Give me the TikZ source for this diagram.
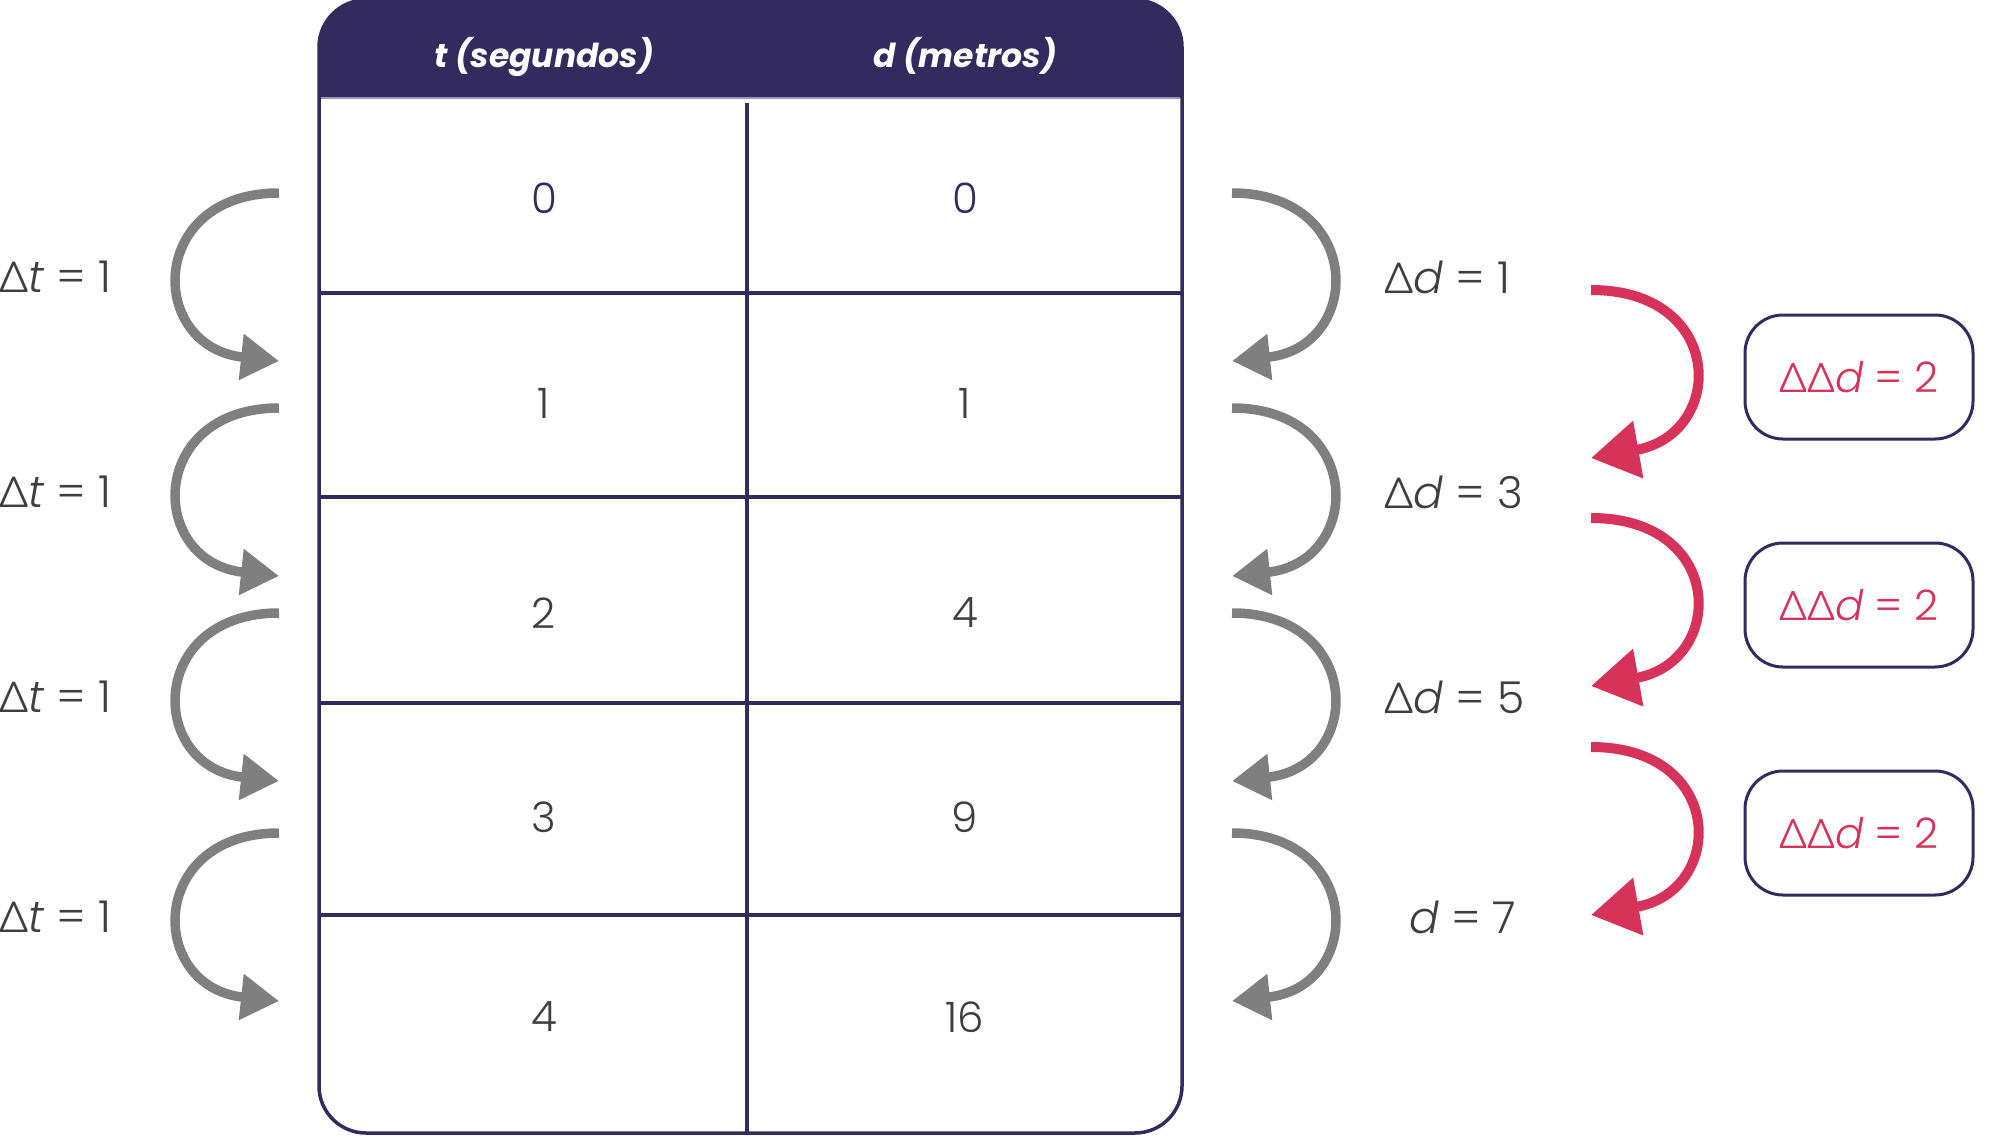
\documentclass[tikz,border=0pt]{standalone}
\usepackage{fontspec}
\setmainfont{Poppins}[UprightFont=* Light, ItalicFont=* Light Italic, BoldFont=* Bold, BoldItalicFont=* Bold Italic]
\newfontfamily\deltaf{Poppins}[UprightFont=* Light]
\usetikzlibrary{arrows.meta}
\definecolor{navy}{HTML}{332B5E}
\definecolor{txtgray}{HTML}{3F3F3F}
\definecolor{arrgray}{HTML}{7F7F7F}
\definecolor{pinkc}{HTML}{D6325A}
\definecolor{lav}{HTML}{9A94C0}
\newcommand\Dlt{{\deltaf ∆}}
\begin{document}
\begin{tikzpicture}[x=1pt,y=-1pt,
  tline/.style={draw=navy, line width=3.5pt},
  cell/.style={inner sep=0pt, font=\fontsize{42}{50}\selectfont, text=txtgray},
  zcell/.style={cell, text=navy},
  head/.style={inner sep=0pt, anchor=base, font=\fontsize{33}{40}\selectfont\bfseries\itshape, text=white},
  lbl/.style={inner sep=0pt, anchor=west, font=\fontsize{44}{52}\selectfont, text=txtgray},
  ddbox/.style={draw=navy, line width=3pt, rounded corners=38pt, minimum width=228pt, minimum height=124pt, inner sep=0pt, font=\fontsize{42}{50}\selectfont, text=pinkc},
  garrow/.style={draw=arrgray, line width=9.5pt, -{Triangle[length=38pt,width=44pt]}},
  parrow/.style={draw=pinkc, line width=10pt, -{Triangle[length=48pt,width=56pt]}}
]
\useasboundingbox (0,0) rectangle (1999,1137);

% table
\begin{scope}
  \clip[rounded corners=47pt] (319,0) rectangle (1182,1133);
  \fill[navy] (319,0) rectangle (1182,98);
\end{scope}
\draw[lav, line width=1.5pt] (321,98) -- (1180,98);
\draw[tline, rounded corners=47pt] (319,0) rectangle (1182,1133);
\foreach \y in {293,497,703,915} \draw[tline] (319,\y) -- (1182,\y);
\draw[tline] (747,103) -- (747,1133);

\node[head] (h1) at (544,68) {t (segundos)};
\node[head] (h2) at (965,68) {d (metros)};

\node[zcell] (t0) at (544,198) {0};
\node[zcell] (d0) at (965,198) {0};
\node[cell] (t1) at (544,403) {1};
\node[cell] (d1) at (965,403) {1};
\node[cell] (t2) at (544,613) {2};
\node[cell] (d2) at (965,613) {4};
\node[cell] (t3) at (544,817) {3};
\node[cell] (d3) at (965,817) {9};
\node[cell] (t4) at (544,1017) {4};
\node[cell] (d4) at (965,1017) {16};

% left labels and arrows
\foreach \i/\m in {1/277,2/492,3/697,4/917}{
  \node[lbl] (lt\i) at (-1,\m) {\Dlt\textit{t} = 1};
  \coordinate (ls\i) at (279,\m-84);
  \coordinate (le\i) at (279,\m+84);
  \draw[garrow] (ls\i) .. controls +(-132,0) and +(-132,-14) .. (le\i);
  \coordinate (rs\i) at (1232,\m-84);
  \coordinate (re\i) at (1232,\m+84);
  \draw[garrow] (rs\i) .. controls +(132,0) and +(132,-14) .. (re\i);
}

\node[lbl] (rd1) at (1384,277) {\Dlt\textit{d} = 1};
\node[lbl] (rd2) at (1384,492) {\Dlt\textit{d} = 3};
\node[lbl] (rd3) at (1384,697) {\Dlt\textit{d} = 5};
\node[lbl] (rd4) at (1409,917) {\textit{d} = 7};

% pink arrows and boxes
\foreach \i/\m in {1/374,2/602,3/831}{
  \coordinate (ps\i) at (1591,\m-84);
  \coordinate (pe\i) at (1591,\m+84);
  \draw[parrow] (ps\i) .. controls +(135,0) and +(135,-24) .. (pe\i);
}
\node[ddbox] (b1) at (1859,377) {\Dlt\Dlt\textit{d} = 2};
\node[ddbox] (b2) at (1859,605) {\Dlt\Dlt\textit{d} = 2};
\node[ddbox] (b3) at (1859,833) {\Dlt\Dlt\textit{d} = 2};
\end{tikzpicture}
\end{document}
